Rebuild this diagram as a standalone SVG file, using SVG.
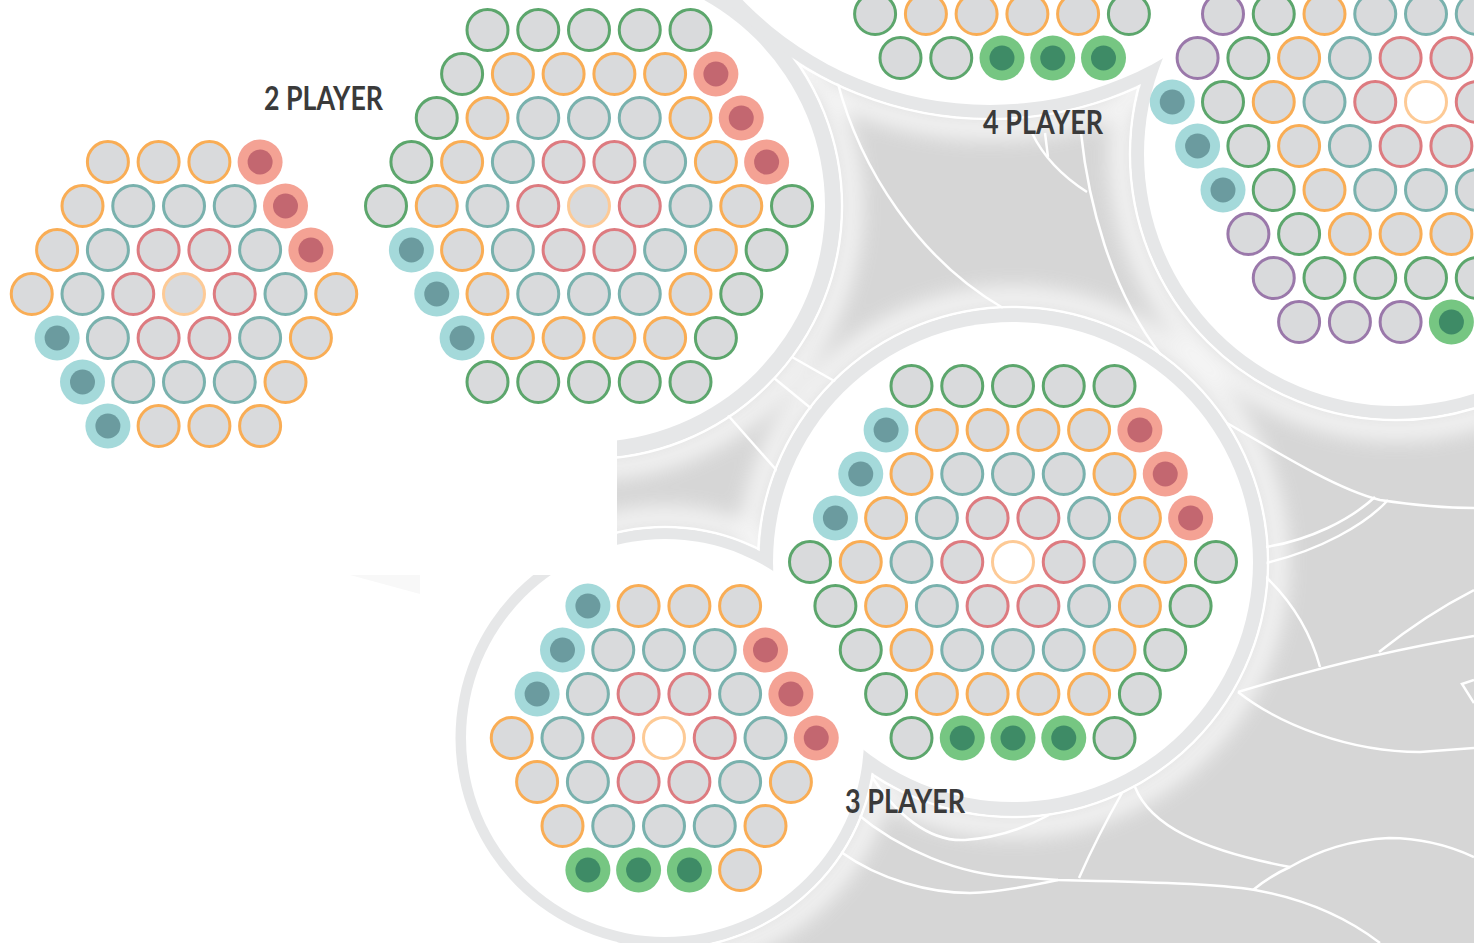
<svg xmlns="http://www.w3.org/2000/svg" xmlns:xlink="http://www.w3.org/1999/xlink" width="1474" height="943" viewBox="0 0 1474 943">
<style>
.e{fill:#d9dadc;stroke-width:3}
.o{stroke:#f9ad55}.t{stroke:#79b1ad}.r{stroke:#dd7b80}.g{stroke:#5ca66c}.p{stroke:#9a78aa}.x{stroke:#fdca96}
.ln{fill:none;stroke:#fff;stroke-width:2.5}
.band{fill:#e6e7e8}
.disc{fill:#fff}
.lbl{font-family:Lato,"Open Sans",sans-serif;font-weight:700;font-size:32px;fill:#3a3a3a}
</style>
<defs>
<filter id="blur" x="-30%" y="-30%" width="160%" height="160%"><feGaussianBlur stdDeviation="10"/></filter>
<circle id="o" r="20.5" class="e o"/>
<circle id="t" r="20.5" class="e t"/>
<circle id="r" r="20.5" class="e r"/>
<circle id="g" r="20.5" class="e g"/>
<circle id="p" r="20.5" class="e p"/>
<circle id="xg" r="20.5" class="e x"/>
<circle id="xw" r="20.5" class="e x" style="fill:#fff"/>
<g id="mr"><circle r="22.5" fill="#f4a294"/><circle r="12.5" fill="#c36770"/></g>
<g id="mt"><circle r="22.5" fill="#a4d9da"/><circle r="12.5" fill="#6b9b9f"/></g>
<g id="mg"><circle r="22.5" fill="#76c682"/><circle r="12.5" fill="#3e8b66"/></g>
</defs>

<g id="background">
<rect width="1474" height="943" fill="#fff"/>
<rect x="617" y="0" width="857" height="943" fill="#d6d6d6"/>
<g id="glow" filter="url(#blur)" fill="none" stroke="#fff" stroke-width="22" opacity="0.75">
<circle cx="589" cy="206" r="262"/>
<circle cx="990" cy="-239" r="367"/>
<circle cx="1396" cy="154" r="275"/>
<circle cx="1013" cy="562" r="264"/>
<circle cx="665" cy="738" r="220"/>
</g>
</g>

<g id="connectors">
<path class="ln" d="M837,80 C860,170 920,260 1003,308"/>
<path class="ln" d="M1081,133 C1088,200 1110,290 1161,355"/>
<path class="ln" d="M1032,133 C1045,160 1065,178 1087,192"/>
<path class="ln" d="M1045,133 L1048,157"/>
<path class="ln" d="M1227,423 C1290,460 1340,490 1380,500 C1420,506 1450,508 1474,508"/>
<path class="ln" d="M1266,547 C1310,540 1350,520 1375,497"/>
<path class="ln" d="M1266,563 C1320,550 1365,525 1388,500"/>
<path class="ln" d="M1266,577 C1290,600 1310,630 1320,667"/>
<path class="ln" d="M1238,692 Q1360,655 1474,636"/>
<path class="ln" d="M1238,692 C1280,725 1350,752 1420,752 L1474,748"/>
<path class="ln" d="M1379,652 Q1425,615 1474,590"/>
<path class="ln" d="M1474,680 L1462,684 L1474,703"/>
<path class="ln" d="M856,813 C900,850 960,875 1015,877 L1058,880 C1150,882 1220,884 1255,890 C1310,900 1350,920 1380,943"/>
<path class="ln" d="M841,852 C880,880 930,893 970,893 C1000,892 1030,886 1058,880"/>
<path class="ln" d="M869,772 C895,815 930,842 965,840 C995,838 1025,828 1049,815"/>
<path class="ln" d="M1079,878 Q1098,835 1122,793"/>
<path class="ln" d="M1135,787 C1150,825 1200,850 1290,867"/>
<path class="ln" d="M1253,890 Q1270,876 1290,867 C1320,850 1350,840 1389,838 C1420,838 1450,846 1474,857"/>
<path class="ln" d="M726,413 L779,473"/>
<path class="ln" d="M774,378 L813,410"/>
<path class="ln" d="M792,357 L836,382"/>
</g>

<g id="circles">
<g fill="none" stroke="#fff" stroke-width="2.5">
<circle cx="589" cy="206" r="253"/>
<circle cx="990" cy="-239" r="358"/>
<circle cx="1396" cy="154" r="266"/>
<circle cx="1013" cy="562" r="255"/>
<circle cx="665" cy="738" r="211"/>
</g>
<circle class="band" cx="589" cy="206" r="251.5"/>
<circle class="band" cx="990" cy="-239" r="356.5"/>
<circle class="band" cx="1396" cy="154" r="264.5"/>
<circle class="band" cx="1013" cy="562" r="253.5"/>
<circle class="band" cx="665" cy="738" r="209.5"/>
<circle class="disc" cx="589" cy="206" r="236"/>
<circle class="disc" cx="990" cy="-239" r="344"/>
<circle class="disc" cx="1396" cy="154" r="252"/>
<circle class="disc" cx="1013" cy="562" r="240"/>
<circle class="disc" cx="665" cy="738" r="199"/>
<rect x="0" y="0" width="617" height="575" fill="#fff"/>
<polygon points="350,575 420,575 420,594" fill="#f8f8f8"/>
</g>

<g id="board-2p-small">
<use href="#o" x="107.9" y="162"/><use href="#o" x="158.6" y="162"/><use href="#o" x="209.4" y="162"/><use href="#mr" x="260.1" y="162"/>
<use href="#o" x="82.5" y="206"/><use href="#t" x="133.25" y="206"/><use href="#t" x="184" y="206"/><use href="#t" x="234.75" y="206"/><use href="#mr" x="285.5" y="206"/>
<use href="#o" x="57.1" y="250"/><use href="#t" x="107.9" y="250"/><use href="#r" x="158.6" y="250"/><use href="#r" x="209.4" y="250"/><use href="#t" x="260.1" y="250"/><use href="#mr" x="310.9" y="250"/>
<use href="#o" x="31.75" y="294"/><use href="#t" x="82.5" y="294"/><use href="#r" x="133.25" y="294"/><use href="#xg" x="184" y="294"/><use href="#r" x="234.75" y="294"/><use href="#t" x="285.5" y="294"/><use href="#o" x="336.25" y="294"/>
<use href="#mt" x="57.1" y="338"/><use href="#t" x="107.9" y="338"/><use href="#r" x="158.6" y="338"/><use href="#r" x="209.4" y="338"/><use href="#t" x="260.1" y="338"/><use href="#o" x="310.9" y="338"/>
<use href="#mt" x="82.5" y="382"/><use href="#t" x="133.25" y="382"/><use href="#t" x="184" y="382"/><use href="#t" x="234.75" y="382"/><use href="#o" x="285.5" y="382"/>
<use href="#mt" x="107.9" y="426"/><use href="#o" x="158.6" y="426"/><use href="#o" x="209.4" y="426"/><use href="#o" x="260.1" y="426"/>
</g>

<g id="board-2p-large">
<use href="#g" x="487.5" y="30"/><use href="#g" x="538.25" y="30"/><use href="#g" x="589" y="30"/><use href="#g" x="639.75" y="30"/><use href="#g" x="690.5" y="30"/>
<use href="#g" x="462.1" y="74"/><use href="#o" x="512.9" y="74"/><use href="#o" x="563.6" y="74"/><use href="#o" x="614.4" y="74"/><use href="#o" x="665.1" y="74"/><use href="#mr" x="715.9" y="74"/>
<use href="#g" x="436.75" y="118"/><use href="#o" x="487.5" y="118"/><use href="#t" x="538.25" y="118"/><use href="#t" x="589" y="118"/><use href="#t" x="639.75" y="118"/><use href="#o" x="690.5" y="118"/><use href="#mr" x="741.25" y="118"/>
<use href="#g" x="411.4" y="162"/><use href="#o" x="462.1" y="162"/><use href="#t" x="512.9" y="162"/><use href="#r" x="563.6" y="162"/><use href="#r" x="614.4" y="162"/><use href="#t" x="665.1" y="162"/><use href="#o" x="715.9" y="162"/><use href="#mr" x="766.6" y="162"/>
<use href="#g" x="386" y="206"/><use href="#o" x="436.75" y="206"/><use href="#t" x="487.5" y="206"/><use href="#r" x="538.25" y="206"/><use href="#xg" x="589" y="206"/><use href="#r" x="639.75" y="206"/><use href="#t" x="690.5" y="206"/><use href="#o" x="741.25" y="206"/><use href="#g" x="792" y="206"/>
<use href="#mt" x="411.4" y="250"/><use href="#o" x="462.1" y="250"/><use href="#t" x="512.9" y="250"/><use href="#r" x="563.6" y="250"/><use href="#r" x="614.4" y="250"/><use href="#t" x="665.1" y="250"/><use href="#o" x="715.9" y="250"/><use href="#g" x="766.6" y="250"/>
<use href="#mt" x="436.75" y="294"/><use href="#o" x="487.5" y="294"/><use href="#t" x="538.25" y="294"/><use href="#t" x="589" y="294"/><use href="#t" x="639.75" y="294"/><use href="#o" x="690.5" y="294"/><use href="#g" x="741.25" y="294"/>
<use href="#mt" x="462.1" y="338"/><use href="#o" x="512.9" y="338"/><use href="#o" x="563.6" y="338"/><use href="#o" x="614.4" y="338"/><use href="#o" x="665.1" y="338"/><use href="#g" x="715.9" y="338"/>
<use href="#g" x="487.5" y="382"/><use href="#g" x="538.25" y="382"/><use href="#g" x="589" y="382"/><use href="#g" x="639.75" y="382"/><use href="#g" x="690.5" y="382"/>
</g>

<g id="board-3p-large">
<use href="#g" x="911.5" y="386"/><use href="#g" x="962.25" y="386"/><use href="#g" x="1013" y="386"/><use href="#g" x="1063.75" y="386"/><use href="#g" x="1114.5" y="386"/>
<use href="#mt" x="886.1" y="430"/><use href="#o" x="936.9" y="430"/><use href="#o" x="987.6" y="430"/><use href="#o" x="1038.4" y="430"/><use href="#o" x="1089.1" y="430"/><use href="#mr" x="1139.9" y="430"/>
<use href="#mt" x="860.75" y="474"/><use href="#o" x="911.5" y="474"/><use href="#t" x="962.25" y="474"/><use href="#t" x="1013" y="474"/><use href="#t" x="1063.75" y="474"/><use href="#o" x="1114.5" y="474"/><use href="#mr" x="1165.25" y="474"/>
<use href="#mt" x="835.4" y="518"/><use href="#o" x="886.1" y="518"/><use href="#t" x="936.9" y="518"/><use href="#r" x="987.6" y="518"/><use href="#r" x="1038.4" y="518"/><use href="#t" x="1089.1" y="518"/><use href="#o" x="1139.9" y="518"/><use href="#mr" x="1190.6" y="518"/>
<use href="#g" x="810" y="562"/><use href="#o" x="860.75" y="562"/><use href="#t" x="911.5" y="562"/><use href="#r" x="962.25" y="562"/><use href="#xw" x="1013" y="562"/><use href="#r" x="1063.75" y="562"/><use href="#t" x="1114.5" y="562"/><use href="#o" x="1165.25" y="562"/><use href="#g" x="1216" y="562"/>
<use href="#g" x="835.4" y="606"/><use href="#o" x="886.1" y="606"/><use href="#t" x="936.9" y="606"/><use href="#r" x="987.6" y="606"/><use href="#r" x="1038.4" y="606"/><use href="#t" x="1089.1" y="606"/><use href="#o" x="1139.9" y="606"/><use href="#g" x="1190.6" y="606"/>
<use href="#g" x="860.75" y="650"/><use href="#o" x="911.5" y="650"/><use href="#t" x="962.25" y="650"/><use href="#t" x="1013" y="650"/><use href="#t" x="1063.75" y="650"/><use href="#o" x="1114.5" y="650"/><use href="#g" x="1165.25" y="650"/>
<use href="#g" x="886.1" y="694"/><use href="#o" x="936.9" y="694"/><use href="#o" x="987.6" y="694"/><use href="#o" x="1038.4" y="694"/><use href="#o" x="1089.1" y="694"/><use href="#g" x="1139.9" y="694"/>
<use href="#g" x="911.5" y="738"/><use href="#mg" x="962.25" y="738"/><use href="#mg" x="1013" y="738"/><use href="#mg" x="1063.75" y="738"/><use href="#g" x="1114.5" y="738"/>
</g>

<g id="board-3p-small">
<use href="#mt" x="587.9" y="606"/><use href="#o" x="638.6" y="606"/><use href="#o" x="689.4" y="606"/><use href="#o" x="740.1" y="606"/>
<use href="#mt" x="562.5" y="650"/><use href="#t" x="613.25" y="650"/><use href="#t" x="664" y="650"/><use href="#t" x="714.75" y="650"/><use href="#mr" x="765.5" y="650"/>
<use href="#mt" x="537.1" y="694"/><use href="#t" x="587.9" y="694"/><use href="#r" x="638.6" y="694"/><use href="#r" x="689.4" y="694"/><use href="#t" x="740.1" y="694"/><use href="#mr" x="790.9" y="694"/>
<use href="#o" x="511.75" y="738"/><use href="#t" x="562.5" y="738"/><use href="#r" x="613.25" y="738"/><use href="#xw" x="664" y="738"/><use href="#r" x="714.75" y="738"/><use href="#t" x="765.5" y="738"/><use href="#mr" x="816.25" y="738"/>
<use href="#o" x="537.1" y="782"/><use href="#t" x="587.9" y="782"/><use href="#r" x="638.6" y="782"/><use href="#r" x="689.4" y="782"/><use href="#t" x="740.1" y="782"/><use href="#o" x="790.9" y="782"/>
<use href="#o" x="562.5" y="826"/><use href="#t" x="613.25" y="826"/><use href="#t" x="664" y="826"/><use href="#t" x="714.75" y="826"/><use href="#o" x="765.5" y="826"/>
<use href="#mg" x="587.9" y="870"/><use href="#mg" x="638.6" y="870"/><use href="#mg" x="689.4" y="870"/><use href="#o" x="740.1" y="870"/>
</g>

<g id="board-4p-top">
<use href="#g" x="875.1" y="14"/><use href="#o" x="925.9" y="14"/><use href="#o" x="976.6" y="14"/><use href="#o" x="1027.4" y="14"/><use href="#o" x="1078.1" y="14"/><use href="#g" x="1128.9" y="14"/>
<use href="#g" x="900.5" y="58"/><use href="#g" x="951.25" y="58"/><use href="#mg" x="1002" y="58"/><use href="#mg" x="1052.75" y="58"/><use href="#mg" x="1103.5" y="58"/>
</g>

<g id="board-4p-right">
<use href="#p" x="1223" y="14"/><use href="#g" x="1273.75" y="14"/><use href="#o" x="1324.5" y="14"/><use href="#t" x="1375.25" y="14"/><use href="#t" x="1426" y="14"/><use href="#t" x="1476.75" y="14"/>
<use href="#p" x="1197.6" y="58"/><use href="#g" x="1248.4" y="58"/><use href="#o" x="1299.1" y="58"/><use href="#t" x="1349.9" y="58"/><use href="#r" x="1400.6" y="58"/><use href="#r" x="1451.4" y="58"/>
<use href="#mt" x="1172.25" y="102"/><use href="#g" x="1223" y="102"/><use href="#o" x="1273.75" y="102"/><use href="#t" x="1324.5" y="102"/><use href="#r" x="1375.25" y="102"/><use href="#xw" x="1426" y="102"/><use href="#r" x="1476.75" y="102"/>
<use href="#mt" x="1197.6" y="146"/><use href="#g" x="1248.4" y="146"/><use href="#o" x="1299.1" y="146"/><use href="#t" x="1349.9" y="146"/><use href="#r" x="1400.6" y="146"/><use href="#r" x="1451.4" y="146"/>
<use href="#mt" x="1223" y="190"/><use href="#g" x="1273.75" y="190"/><use href="#o" x="1324.5" y="190"/><use href="#t" x="1375.25" y="190"/><use href="#t" x="1426" y="190"/><use href="#t" x="1476.75" y="190"/>
<use href="#p" x="1248.4" y="234"/><use href="#g" x="1299.1" y="234"/><use href="#o" x="1349.9" y="234"/><use href="#o" x="1400.6" y="234"/><use href="#o" x="1451.4" y="234"/>
<use href="#p" x="1273.75" y="278"/><use href="#g" x="1324.5" y="278"/><use href="#g" x="1375.25" y="278"/><use href="#g" x="1426" y="278"/><use href="#g" x="1476.75" y="278"/>
<use href="#p" x="1299.1" y="322"/><use href="#p" x="1349.9" y="322"/><use href="#p" x="1400.6" y="322"/><use href="#mg" x="1451.4" y="322"/>
</g>

<g id="labels">
<text class="lbl" x="264" y="110" textLength="119" lengthAdjust="spacingAndGlyphs">2 PLAYER</text>
<text class="lbl" x="983" y="134" textLength="120" lengthAdjust="spacingAndGlyphs">4 PLAYER</text>
<text class="lbl" x="845" y="813" textLength="120" lengthAdjust="spacingAndGlyphs">3 PLAYER</text>
</g>
</svg>
